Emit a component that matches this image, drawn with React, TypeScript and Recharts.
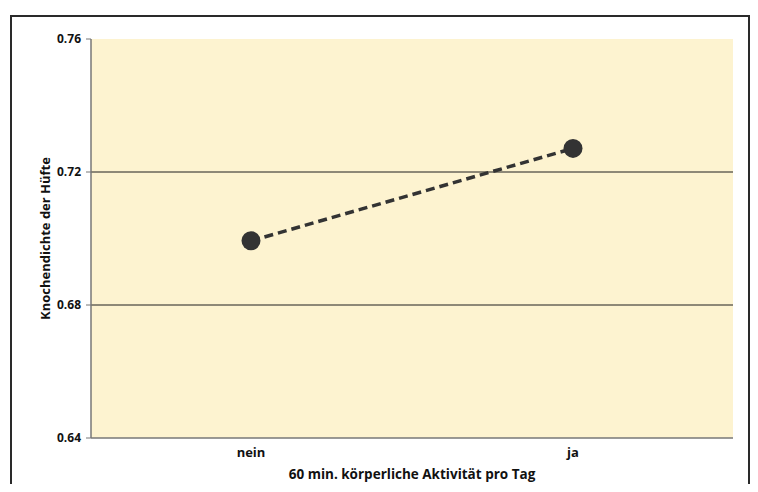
import { LineChart, Line, XAxis, YAxis, CartesianGrid, ReferenceLine } from "recharts";

const categories = ["nein", "ja"];
const density = [0.6993, 0.7271];
const yTicks = [0.64, 0.68, 0.72, 0.76];
const gridValues = [0.68, 0.72];

const data = categories.map((name, i) => ({ name, value: density[i] }));

const FONT = "'Open Sans', 'Liberation Sans', sans-serif";

export default function App() {
  return (
    <div style={{ position: "relative", width: 758, height: 492, margin: -8, background: "#fff", overflow: "hidden" }}>
      <div
        style={{
          position: "absolute",
          left: 10,
          top: 15,
          width: 736,
          height: 500,
          border: "2px solid #2a2a2a",
        }}
      />
      <div style={{ position: "absolute", left: 0, top: 0 }}>
        <LineChart width={758} height={492} data={data} margin={{ top: 39, right: 25, left: 31, bottom: 11 }}>
          <CartesianGrid horizontal={false} vertical={false} fill="#fdf3d0" />
          {gridValues.map((v) => (
            <ReferenceLine key={v} y={v} stroke="#1e1e1e" strokeOpacity={1} strokeWidth={1} />
          ))}
          <XAxis
            dataKey="name"
            height={43}
            padding={{ left: 160, right: 160 }}
            axisLine={{ stroke: "#777", strokeWidth: 1.5 }}
            tickLine={false}
            tickMargin={4}
            tick={{ fill: "#111", fontSize: 13, fontWeight: 700, fontFamily: FONT }}
            label={{
              value: "60 min. körperliche Aktivität pro Tag",
              position: "insideBottom",
              offset: 2,
              fill: "#111",
              fontSize: 13.5,
              fontWeight: 700,
              fontFamily: FONT,
            }}
          />
          <YAxis
            width={60}
            domain={[0.64, 0.76]}
            ticks={yTicks}
            tickFormatter={(v: number) => v.toFixed(2)}
            axisLine={{ stroke: "#777", strokeWidth: 1.5 }}
            tickLine={{ stroke: "#777" }}
            tickSize={5}
            tickMargin={5}
            tick={{ fill: "#111", fontSize: 12, fontWeight: 700, fontFamily: FONT }}
            label={{
              value: "Knochendichte der Hüfte",
              angle: -90,
              position: "insideLeft",
              offset: 14,
              style: { textAnchor: "middle" },
              fill: "#111",
              fontSize: 13,
              fontWeight: 700,
              fontFamily: FONT,
            }}
          />
          <Line
            type="linear"
            dataKey="value"
            stroke="#333"
            strokeWidth={3.5}
            strokeDasharray="9 5"
            dot={{ r: 9.5, fill: "#333", stroke: "#333", strokeWidth: 0 }}
            activeDot={false}
            isAnimationActive={false}
          />
        </LineChart>
      </div>
    </div>
  );
}
